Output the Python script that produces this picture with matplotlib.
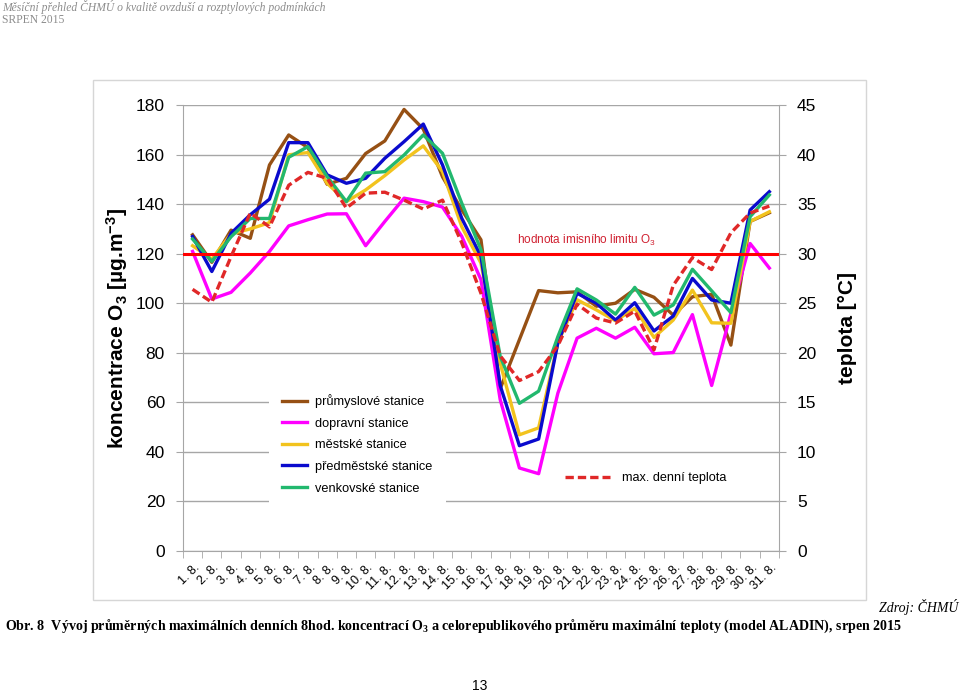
import numpy as np
import matplotlib
matplotlib.use("Agg")
import matplotlib.pyplot as plt
from matplotlib.lines import Line2D
from matplotlib.patches import Rectangle
from matplotlib.transforms import ScaledTranslation

plt.rcParams['font.family'] = ['Liberation Sans', 'DejaVu Sans']
plt.rcParams['mathtext.default'] = 'regular'

# dny v srpnu 2015
dny = ["1. 8.", "2. 8.", "3. 8.", "4. 8.", "5. 8.", "6. 8.", "7. 8.", "8. 8.",
       "9. 8.", "10. 8.", "11. 8.", "12. 8.", "13. 8.", "14. 8.", "15. 8.",
       "16. 8.", "17. 8.", "18. 8.", "19. 8.", "20. 8.", "21. 8.", "22. 8.",
       "23. 8.", "24. 8.", "25. 8.", "26. 8.", "27. 8.", "28. 8.", "29. 8.",
       "30. 8.", "31. 8."]

# koncentrace O3 [ug/m3] podle typu stanic
prumyslove = [127.6, 116.5, 129.5, 126.2, 155.8, 167.9, 162.8, 148.0, 150.4, 160.4,
              165.5, 178.2, 170.3, 151.0, 137.7, 125.6, 65.5, 85.3, 105.1, 104.2,
              104.6, 98.8, 100.0, 105.6, 102.4, 95.2, 102.6, 103.6, 83.1, 133.0, 136.5]
dopravni = [120.9, 101.7, 104.4, 112.2, 120.9, 131.2, 133.7, 136.0, 136.1, 123.2,
            133.0, 142.4, 141.0, 138.8, 127.0, 109.5, 61.1, 33.5, 31.2, 63.7,
            85.9, 89.9, 85.9, 90.3, 79.6, 80.1, 95.4, 66.8, 95.9, 124.1, 114.2]
mestske = [123.2, 117.8, 128.0, 130.0, 132.5, 159.9, 160.8, 148.4, 141.0, 145.7,
           151.5, 157.8, 163.5, 153.1, 130.9, 116.2, 75.8, 46.9, 49.7, 84.0,
           101.4, 97.3, 92.9, 97.9, 86.2, 93.2, 105.3, 92.1, 91.9, 133.0, 136.9]
predmestske = [126.9, 112.8, 128.2, 135.7, 142.0, 164.8, 164.8, 151.8, 148.4, 150.4,
               158.5, 165.2, 172.3, 155.8, 134.3, 118.9, 66.8, 42.5, 45.2, 84.0,
               104.0, 100.0, 93.2, 100.2, 88.8, 94.8, 110.0, 101.3, 100.0, 137.6, 145.0]
venkovske = [125.9, 116.9, 126.8, 134.2, 134.2, 158.9, 163.2, 151.1, 141.0, 152.5,
             153.1, 159.8, 167.9, 160.5, 140.4, 121.6, 78.6, 59.6, 64.5, 86.5,
             105.8, 101.3, 95.6, 106.4, 95.2, 99.3, 113.7, 105.0, 96.2, 134.9, 143.7]

# max. denni teplota [°C]
teplota = [26.4, 25.1, 29.7, 34.1, 32.7, 36.9, 38.2, 37.6, 34.6, 36.1,
           36.2, 35.4, 34.5, 35.4, 31.1, 26.0, 19.7, 17.2, 18.1, 20.7,
           24.9, 23.5, 23.0, 24.2, 20.3, 26.8, 29.6, 28.4, 32.1, 34.1, 34.8]

limit_o3 = 120

serie = [
    ("průmyslové stanice", prumyslove, "#965014"),
    ("dopravní stanice", dopravni, "#FF00FF"),
    ("městské stanice", mestske, "#F2C31E"),
    ("předměstské stanice", predmestske, "#0A0ACD"),
    ("venkovské stanice", venkovske, "#22B86E"),
]

GRID = "#a6a6a6"

fig = plt.figure(figsize=(9.6, 6.93), dpi=100)
ax = fig.add_axes([0.1906, 0.2049, 0.6208, 0.6436])
x = np.arange(1, len(dny) + 1)

handles = []
for nazev, hodnoty, barva in serie:
    ln, = ax.plot(x, hodnoty, color=barva, lw=2.4, label=nazev, zorder=3)
    handles.append(ln)

ax.axhline(limit_o3, color="#FF0000", lw=2.2, zorder=5)
ax.text(17.9, 125.5, "hodnota imisního limitu O$_3$", color="#D02030",
        fontsize=8.5, va="center", ha="left")

ax.set_xlim(0.5, len(dny) + 0.5)
ax.set_ylim(0, 180)
ax.set_yticks(np.arange(0, 181, 20))
ax.yaxis.grid(True, color=GRID, lw=1)
ax.set_axisbelow(True)

ax.set_xticks(x)
ax.set_xticklabels(dny, rotation=45, ha="right", va="center", rotation_mode="anchor", fontsize=9)
ax.set_xticks(np.arange(0.5, len(dny) + 1), minor=True)
ax.tick_params(axis="x", which="major", length=0, pad=11)
ax.tick_params(axis="x", which="minor", length=5, color=GRID)
for lbl in ax.get_xticklabels():
    lbl.set_transform(lbl.get_transform() + ScaledTranslation(4 / 72, 0, fig.dpi_scale_trans))
ax.tick_params(axis="y", length=5, color=GRID, labelsize=12.5, pad=8)

for s in ["top", "right"]:
    ax.spines[s].set_visible(False)
for s in ["left", "bottom"]:
    ax.spines[s].set_color(GRID)

ax.set_ylabel("koncentrace O$_3$ [µg.m$^{-3}$]", fontsize=15, fontweight="bold")
ax.yaxis.set_label_coords(-0.089, 0.5)

# druha osa - teplota
ax2 = ax.twinx()
ax2.plot(x, teplota, color="#E02828", lw=2.4, ls=(0, (2.5, 1.2)), zorder=4)
ax2.set_ylim(0, 45)
ax2.set_yticks(np.arange(0, 46, 5))
ax2.tick_params(axis="y", length=5, color=GRID, labelsize=12.5, pad=8)
for s in ["top", "left", "bottom"]:
    ax2.spines[s].set_visible(False)
ax2.spines["right"].set_color(GRID)
ax2.set_ylabel("teplota [°C]", fontsize=15, fontweight="bold", rotation=90)
ax2.yaxis.set_label_coords(1.099, 0.5)

leg = ax2.legend(handles=handles, loc="center left", bbox_to_anchor=(0.144, 0.239),
                 fontsize=9.2, handlelength=2.0, handletextpad=0.65, labelspacing=0.75,
                 borderpad=1.0, borderaxespad=0, frameon=True, fancybox=False,
                 edgecolor="none", facecolor="white", framealpha=1)
ax2.add_artist(leg)
tep_handle = Line2D([], [], color="#E02828", lw=2.4, ls=(0, (2.5, 1.2)))
ax2.legend(handles=[tep_handle], labels=["max. denní teplota"], loc="center left",
           bbox_to_anchor=(0.641, 0.1637), fontsize=9.1, handlelength=3.55,
           handletextpad=1.0, borderpad=0, borderaxespad=0, frameon=False)

# ramecek obrazku
fig.add_artist(Rectangle((0.0969, 0.1342), 0.805, 0.750, transform=fig.transFigure,
                         fill=False, ec="#d6d6d6", lw=1))

# texty stranky
fig.text(0.002, 1 - 7 / 693, "Měsíční přehled ČHMÚ o kvalitě ovzduší a rozptylových podmínkách",
         family="Liberation Serif", style="italic", color="#8c8c8c", fontsize=8.4, va="center")
fig.text(0.002, 1 - 20 / 693, "SRPEN 2015", family="Liberation Serif", color="#8c8c8c",
         fontsize=8.4, va="center")
fig.text(0.998, 1 - 607 / 693, "Zdroj: ČHMÚ", family="Liberation Serif", style="italic",
         fontsize=10, ha="right", va="center")
fig.text(0.005, 1 - 626 / 693,
         "Obr. 8  Vývoj průměrných maximálních denních 8hod. koncentrací O$_3$ a celorepublikového "
         "průměru maximální teploty (model ALADIN), srpen 2015",
         family="Liberation Serif", fontweight="bold", fontsize=10.1, va="center")
fig.text(0.5, 1 - 686 / 693, "13", fontsize=10, ha="center", va="center")

fig.savefig("out.png", dpi=100)
